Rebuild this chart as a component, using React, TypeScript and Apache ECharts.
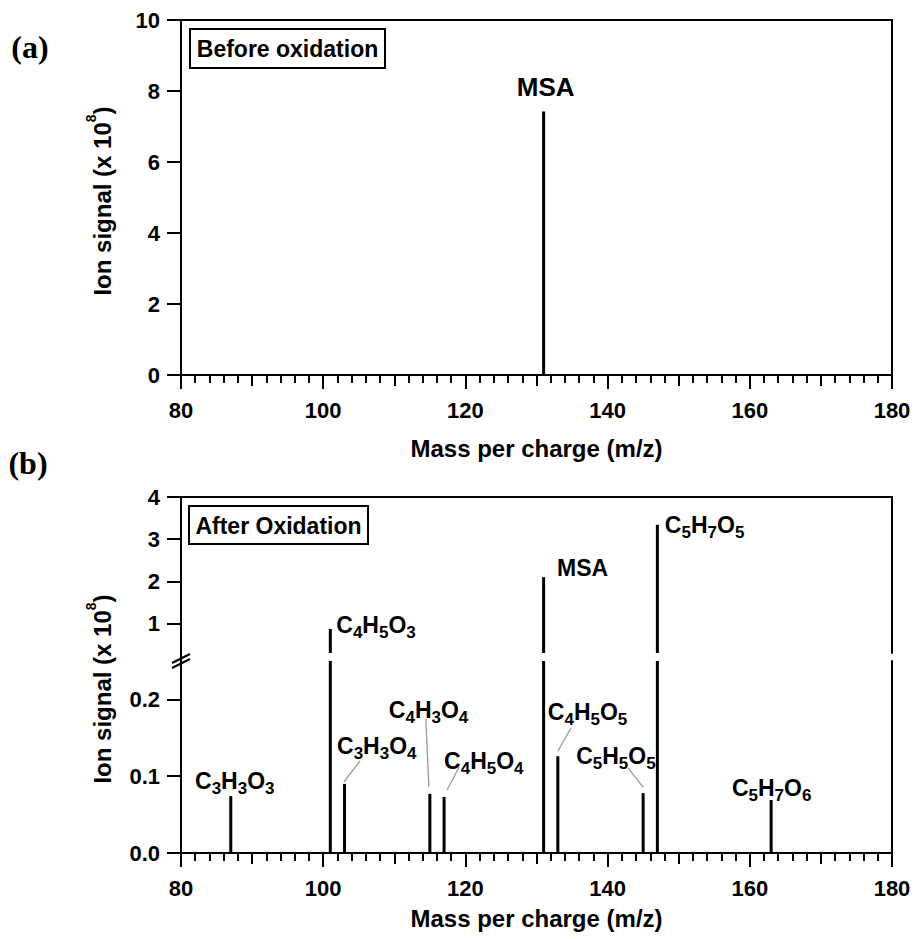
import React, { useEffect, useRef } from "react";
import * as echarts from "echarts";

const FONT = '"Liberation Sans", Arial, Helvetica, sans-serif';
const SERIF = '"Liberation Serif", "Times New Roman", serif';

// ---------- data: panel (a) ----------
const massA = [131];
const signalA = [7.42];
const labelA = ["MSA"];
const yTicksA = [0, 2, 4, 6, 8, 10];

// ---------- data: panel (b) ----------
const massB = [87, 101, 103, 115, 117, 131, 133, 145, 147, 163];
const signalB = [0.074, 0.87, 0.09, 0.077, 0.073, 2.1, 0.126, 0.078, 3.34, 0.069];
const formulaB = [
  "C3H3O3",
  "C4H5O3",
  "C3H3O4",
  "C4H3O4",
  "C4H5O4",
  "MSA",
  "C4H5O5",
  "C5H5O5",
  "C5H7O5",
  "C5H7O6",
];
const yTicksBUpper = [1, 2, 3, 4];
const yTicksBLower = [0, 0.1, 0.2];
const breakLow = 0.25; // top of lower segment
const breakHigh = 0.3; // bottom of upper segment
const xMin = 80;
const xMax = 180;

// label placement (pixel offsets from each bar top) — layout only
const labelLayoutB = [
  { dx: 4, dy: -15, align: "center" },
  { dx: 6, dy: -4, align: "left" },
  { dx: -7.5, dy: -38, align: "left", leader: [15.5, -23, -0.5, -2] },
  { dx: -41, dy: -84, align: "left", leader: [-4, -75, -1, -7] },
  { dx: 0, dy: -36, align: "left", leader: [15, -30, 3, -7] },
  { dx: 13.5, dy: -9, align: "left" },
  { dx: -10, dy: -44, align: "left", leader: [13, -28, 0, -5] },
  { dx: -67, dy: -37, align: "left", leader: [-15, -25, 0, -6] },
  { dx: 7.5, dy: 0, align: "left" },
  { dx: 0.5, dy: -12, align: "center" },
];

function toRich(f: string) {
  if (!/\d/.test(f)) return `{m|${f}}`;
  let out = "";
  for (const ch of f) out += /\d/.test(ch) ? `{s|${ch}}` : `{m|${ch}}`;
  return out;
}

export default function App() {
  const ref = useRef<HTMLDivElement>(null);
  useEffect(() => {
    const chart = echarts.init(ref.current!, null, { renderer: "svg" });
    const L = 181;
    const W = 711;
    const line = { show: true, lineStyle: { color: "#000", width: 2 } };
    const noLine = { show: false };
    const tickStyle = { color: "#000", width: 2 };
    const labelStyle = { color: "#000", fontSize: 22, fontWeight: "bold", fontFamily: FONT };
    const nameStyle = { color: "#000", fontSize: 24, fontWeight: "bold", fontFamily: FONT };

    const xMain = (grid: number, gap: number) => ({
      type: "value",
      gridIndex: grid,
      position: "bottom",
      min: xMin,
      max: xMax,
      interval: 20,
      axisLine: line,
      axisTick: { show: true, inside: false, length: 14, lineStyle: tickStyle },
      axisLabel: { ...labelStyle, margin: 24 },
      splitLine: { show: false },
      name: "Mass per charge (m/z)",
      nameLocation: "middle",
      nameGap: gap,
      nameTextStyle: nameStyle,
    });
    const xMinor = (grid: number) => ({
      type: "value",
      gridIndex: grid,
      position: "bottom",
      min: xMin,
      max: xMax,
      interval: 10,
      axisLine: noLine,
      axisTick: { show: true, inside: false, length: 11, lineStyle: tickStyle },
      minorTick: { show: true, splitNumber: 5, length: 8, lineStyle: tickStyle },
      axisLabel: { show: false },
      splitLine: { show: false },
    });
    const xFrame = (grid: number) => ({
      type: "value",
      gridIndex: grid,
      position: "top",
      min: xMin,
      max: xMax,
      axisLine: line,
      axisTick: { show: false },
      axisLabel: { show: false },
      splitLine: { show: false },
    });
    const yFrame = (grid: number, min: number, max: number) => ({
      type: "value",
      gridIndex: grid,
      position: "right",
      min,
      max,
      axisLine: line,
      axisTick: { show: false },
      axisLabel: { show: false },
      splitLine: { show: false },
    });

    const option: any = {
      animation: false,
      backgroundColor: "#fff",
      textStyle: { fontFamily: FONT },
      grid: [
        { left: L, top: 20, width: W, height: 355, show: true, borderColor: "#000", borderWidth: 2, backgroundColor: "transparent" },
        { left: L, top: 497, width: W, height: 156 },
        { left: L, top: 661, width: W, height: 192 },
      ],
      xAxis: [
        xMain(0, 61), // 0
        xMinor(0), // 1
        xFrame(1), // 2 (upper b, top frame)
        xMain(2, 53), // 3
        xMinor(2), // 4
      ],
      yAxis: [
        {
          type: "value",
          gridIndex: 0,
          min: yTicksA[0],
          max: yTicksA[yTicksA.length - 1],
          interval: 2,
          axisLine: line,
          axisTick: { show: true, inside: false, length: 14, lineStyle: tickStyle },
          axisLabel: { ...labelStyle, margin: 21 },
          splitLine: { show: false },
        }, // 0
        {
          type: "value",
          gridIndex: 1,
          position: "left",
          min: breakHigh,
          max: 4,
          axisLine: line,
          axisTick: { show: true, inside: false, length: 14, lineStyle: tickStyle, customValues: yTicksBUpper },
          axisLabel: { ...labelStyle, margin: 21, customValues: yTicksBUpper },
          splitLine: { show: false },
        }, // 1
        yFrame(1, breakHigh, 4), // 2
        {
          type: "value",
          gridIndex: 2,
          position: "left",
          min: 0,
          max: breakLow,
          axisLine: line,
          axisTick: { show: true, inside: false, length: 14, lineStyle: tickStyle, customValues: yTicksBLower },
          axisLabel: {
            ...labelStyle,
            margin: 21,
            customValues: yTicksBLower,
            formatter: (v: number) => v.toFixed(1),
          },
          splitLine: { show: false },
        }, // 3
        yFrame(2, 0, breakLow), // 4
      ],
      series: [
        {
          type: "bar",
          xAxisIndex: 0,
          yAxisIndex: 0,
          barWidth: 3,
          clip: true,
          itemStyle: { color: "#000" },
          data: massA.map((m, i) => [m, signalA[i]]),
        },
        {
          type: "bar",
          xAxisIndex: 2,
          yAxisIndex: 1,
          barWidth: 3,
          clip: true,
          itemStyle: { color: "#000" },
          data: massB.map((m, i) => [m, signalB[i]]).filter((d) => d[1] > breakHigh),
        },
        {
          type: "bar",
          xAxisIndex: 3,
          yAxisIndex: 3,
          barWidth: 3,
          clip: true,
          itemStyle: { color: "#000" },
          data: massB.map((m, i) => [m, signalB[i]]),
        },
      ],
    };
    chart.setOption(option);

    const richB = {
      m: { fontSize: 23, fontWeight: "bold", fontFamily: FONT, fill: "#000", lineHeight: 32 },
      s: { fontSize: 17, fontWeight: "bold", fontFamily: FONT, fill: "#000", lineHeight: 18, verticalAlign: "bottom" },
    };
    const titleRich = {
      m: { fontSize: 24, fontWeight: "bold", fontFamily: FONT, fill: "#000", lineHeight: 36 },
      p: { fontSize: 14, fontWeight: "bold", fontFamily: FONT, fill: "#000", lineHeight: 14, verticalAlign: "top" },
    };

    const graphics: any[] = [];
    // panel (a) label
    massA.forEach((m, i) => {
      const p = chart.convertToPixel({ xAxisIndex: 0, yAxisIndex: 0 }, [m, signalA[i]]) as number[];
      graphics.push({
        type: "text",
        x: p[0] + 2,
        y: p[1] - 25,
        style: { text: labelA[i], fill: "#000", font: `bold 26px ${FONT}`, align: "center", verticalAlign: "middle" },
      });
    });
    // panel (b) labels + leaders
    massB.forEach((m, i) => {
      const upper = signalB[i] > breakHigh;
      const p = chart.convertToPixel(
        upper ? { xAxisIndex: 2, yAxisIndex: 1 } : { xAxisIndex: 3, yAxisIndex: 3 },
        [m, signalB[i]]
      ) as number[];
      const lay = labelLayoutB[i];
      graphics.push({
        type: "text",
        x: p[0] + lay.dx,
        y: p[1] + lay.dy,
        style: { text: toRich(formulaB[i]), rich: richB, align: lay.align, verticalAlign: "middle" },
      });
      if (lay.leader) {
        const [a, b, c, d] = lay.leader;
        graphics.push({
          type: "line",
          shape: { x1: p[0] + a, y1: p[1] + b, x2: p[0] + c, y2: p[1] + d },
          style: { stroke: "#999", lineWidth: 1.3 },
        });
      }
    });

    // axis break: close the gap in left axis and draw "//"
    graphics.push(
      { type: "line", shape: { x1: L, y1: 653, x2: L, y2: 661 }, style: { stroke: "#000", lineWidth: 2 } },
      { type: "line", shape: { x1: 172, y1: 663, x2: 190, y2: 654 }, style: { stroke: "#000", lineWidth: 2 } },
      { type: "line", shape: { x1: 172, y1: 668, x2: 190, y2: 659 }, style: { stroke: "#000", lineWidth: 2 } }
    );

    // y axis titles
    const yTitle = "{m|Ion signal (x 10}{p|8}{m|)}";
    graphics.push(
      { type: "text", x: 102, y: 201, rotation: Math.PI / 2, style: { text: yTitle, rich: titleRich, align: "center", verticalAlign: "middle" } },
      { type: "text", x: 102, y: 689, rotation: Math.PI / 2, style: { text: yTitle, rich: titleRich, align: "center", verticalAlign: "middle" } }
    );

    // panel tags
    graphics.push(
      { type: "text", x: 30, y: 47, style: { text: "(a)", fill: "#000", font: `bold 32px ${SERIF}`, align: "center", verticalAlign: "middle" } },
      { type: "text", x: 28, y: 463, style: { text: "(b)", fill: "#000", font: `bold 32px ${SERIF}`, align: "center", verticalAlign: "middle" } }
    );

    // legend boxes
    graphics.push(
      { type: "rect", shape: { x: 190, y: 29, width: 195, height: 39 }, style: { fill: "#fff", stroke: "#000", lineWidth: 2 } },
      { type: "text", x: 287.5, y: 49, style: { text: "Before oxidation", fill: "#000", font: `bold 23px ${FONT}`, align: "center", verticalAlign: "middle" } },
      { type: "rect", shape: { x: 189, y: 506, width: 179, height: 38 }, style: { fill: "#fff", stroke: "#000", lineWidth: 2 } },
      { type: "text", x: 278.5, y: 525.5, style: { text: "After Oxidation", fill: "#000", font: `bold 23px ${FONT}`, align: "center", verticalAlign: "middle" } }
    );

    chart.setOption({ graphic: graphics });
    return () => chart.dispose();
  }, []);
  return (
    <div
      ref={ref}
      style={{ position: "fixed", left: 0, top: 0, width: 915, height: 939, background: "#fff" }}
    />
  );
}
